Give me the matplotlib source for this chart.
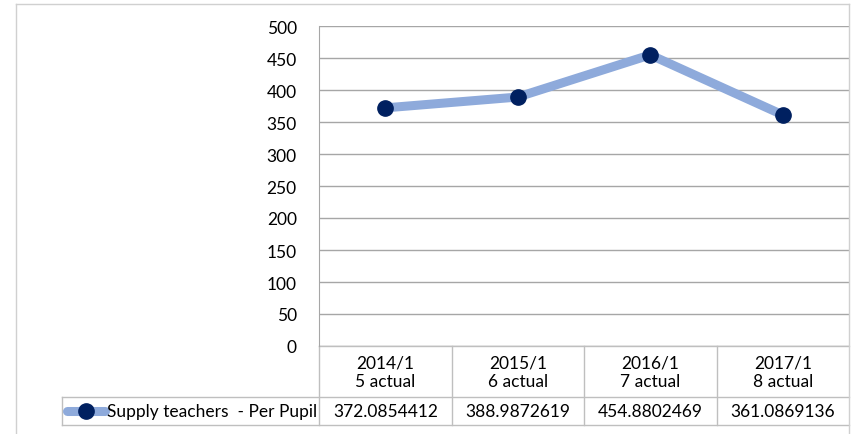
import matplotlib
matplotlib.use("Agg")
import matplotlib.pyplot as plt
from matplotlib.transforms import blended_transform_factory

plt.rcParams['font.family'] = ['Lato', 'DejaVu Sans']

categories = ["2014/1\n5 actual", "2015/1\n6 actual", "2016/1\n7 actual", "2017/1\n8 actual"]
values = [372.0854412, 388.9872619, 454.8802469, 361.0869136]
value_labels = ["372.0854412", "388.9872619", "454.8802469", "361.0869136"]
series_name = "Supply teachers  - Per Pupil"

W, H = 854, 435
line_col = '#8EAADB'
mark_col = '#002060'
grid_col = '#A6A6A6'
tab_col = '#BFBFBF'
fs = 12.5

def px(x):
    return x / W

def py(y):
    return 1 - y / H

fig = plt.figure(figsize=(W / 100, H / 100), dpi=100)

# outer chart border (bottom is cut off in the reference)
fig.add_artist(plt.Line2D([px(16), px(16)], [0, py(5)], color='#D0D0D0', lw=1))
fig.add_artist(plt.Line2D([px(16), px(849)], [py(5), py(5)], color='#D0D0D0', lw=1))
fig.add_artist(plt.Line2D([px(849), px(849)], [0, py(5)], color='#D0D0D0', lw=1))

left, right, top, bottom = 319, 849, 27, 347
ax = fig.add_axes([px(left), py(bottom), px(right - left), py(top) - py(bottom)])

n = len(categories)
xs = [i + 0.5 for i in range(n)]
ax.plot(xs, values, color=line_col, lw=6.5, solid_capstyle='round', zorder=3)
ax.plot(xs, values, 'o', color=mark_col, ms=11, zorder=4)

ax.set_xlim(0, n)
ax.set_ylim(0, 500)
ax.set_yticks(range(0, 501, 50))
ax.tick_params(axis='y', length=0, pad=16, labelsize=fs, labelcolor='#000000')
ax.set_xticks([])
ax.grid(axis='y', color=grid_col, lw=1)
ax.set_axisbelow(True)
for s in ['top', 'right', 'bottom']:
    ax.spines[s].set_visible(False)
ax.spines['left'].set_color(grid_col)

# data table below the plot
tr = blended_transform_factory(ax.transData, ax.transAxes)
unit = (right - left) / n
ph = bottom - top
def ty(y):
    return -(y - bottom) / ph

leg_x = (62 - left) / unit
y_head, y_mid, y_bot = ty(347), ty(398), ty(426)

def hline(x0, x1, y):
    ax.add_line(plt.Line2D([x0, x1], [y, y], transform=tr, color=tab_col, lw=1, clip_on=False))

def vline(x, y0, y1):
    ax.add_line(plt.Line2D([x, x], [y0, y1], transform=tr, color=tab_col, lw=1, clip_on=False))

hline(0, n, y_head)
hline(leg_x, n, y_mid)
hline(leg_x, n, y_bot)
for i in range(n):
    vline(i, y_head, y_bot)
vline(leg_x, y_mid, y_bot)

for i, (c, v) in enumerate(zip(categories, value_labels)):
    ax.text(i + 0.5, (y_head + y_mid) / 2, c, transform=tr, ha='center', va='center',
            fontsize=fs, linespacing=1.2, clip_on=False)
    ax.text(i + 0.5, (y_mid + y_bot) / 2, v, transform=tr, ha='center', va='center',
            fontsize=fs, clip_on=False)

# legend key inside the table
yk = (y_mid + y_bot) / 2
ax.add_line(plt.Line2D([(67 - left) / unit, (105 - left) / unit], [yk, yk], transform=tr,
                       color=line_col, lw=6.5, solid_capstyle='round', clip_on=False))
ax.add_line(plt.Line2D([(86 - left) / unit], [yk], transform=tr, marker='o', ms=11,
                       color=mark_col, clip_on=False))
ax.text((107 - left) / unit, yk, series_name, transform=tr, ha='left', va='center',
        fontsize=fs, clip_on=False)

fig.savefig('out.png', dpi=100)
